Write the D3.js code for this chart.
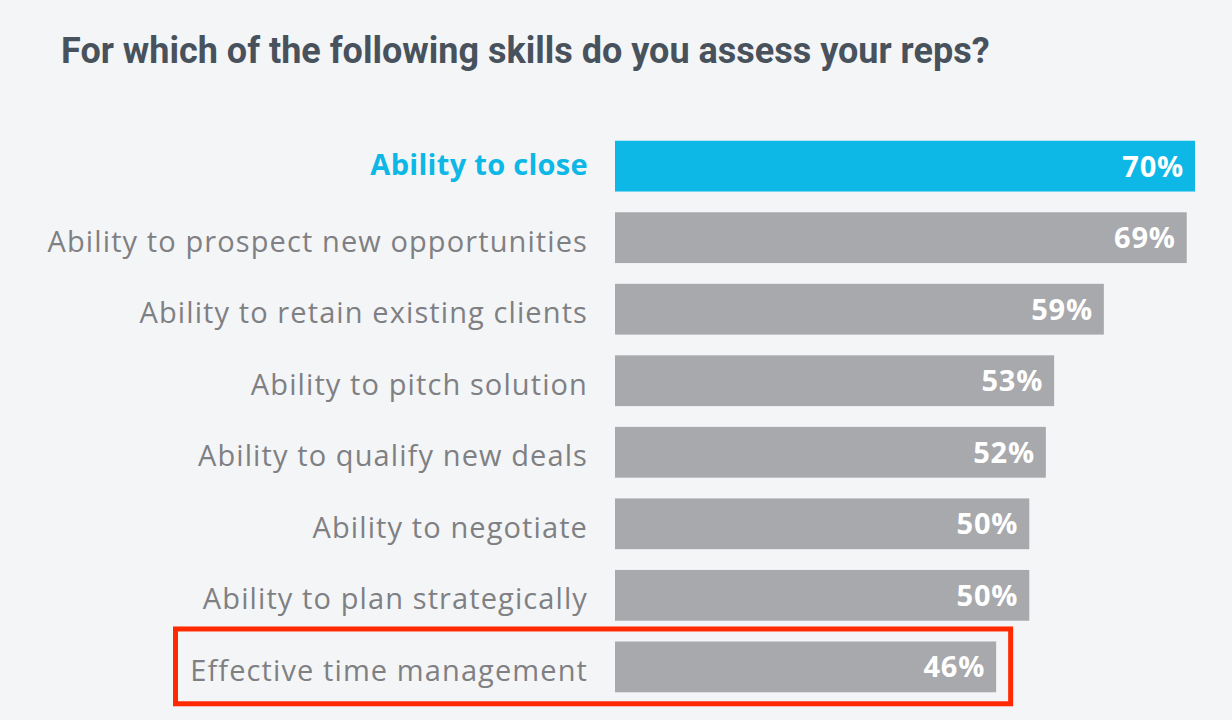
<!DOCTYPE html>
<html><head><meta charset="utf-8">
<script src="https://cdn.jsdelivr.net/npm/d3@7"></script>
<style>
html,body{margin:0;padding:0;background:#f4f5f7;}
svg{display:block;}
</style></head>
<body>
<svg id="chart" width="1232" height="720"></svg>
<script>
const title = "For which of the following skills do you assess your reps?";
const categories = [
  "Ability to close",
  "Ability to prospect new opportunities",
  "Ability to retain existing clients",
  "Ability to pitch solution",
  "Ability to qualify new deals",
  "Ability to negotiate",
  "Ability to plan strategically",
  "Effective time management"
];
const values = [70, 69, 59, 53, 52, 50, 50, 46];
const highlightIndex = 0;
const boxedIndex = 7;

const svg = d3.select("#chart");
const W = 1232, H = 720;
svg.append("rect").attr("width", W).attr("height", H).attr("fill", "#f4f5f7");

svg.append("text")
  .attr("x", 61).attr("y", 63)
  .attr("font-family", "Roboto, sans-serif")
  .attr("font-weight", 700)
  .attr("font-size", 36)
  .attr("fill", "#48525c")
  .text(title);

const x = d3.scaleLinear().domain([0, 70]).range([615, 1195]);
const y = d3.scaleBand().domain(categories).range([130, 703]).paddingInner(0.29).paddingOuter(0.15);

const g = svg.append("g");
const data = categories.map((c, i) => ({c, v: values[i], i}));

g.selectAll("rect.bar").data(data).enter().append("rect")
  .attr("class", "bar")
  .attr("x", x(0))
  .attr("y", d => y(d.c))
  .attr("width", d => x(d.v) - x(0))
  .attr("height", y.bandwidth())
  .attr("fill", d => d.i === highlightIndex ? "#0db7e6" : "#a8a9ac");

g.selectAll("text.val").data(data).enter().append("text")
  .attr("class", "val")
  .attr("x", d => x(d.v) - 11)
  .attr("y", d => y(d.c) + y.bandwidth() / 2)
  .attr("dy", "0.36em")
  .attr("text-anchor", "end")
  .attr("font-family", "'Open Sans', sans-serif")
  .attr("font-weight", 700)
  .attr("font-size", 29)
  .attr("letter-spacing", 0.8)
  .attr("fill", "#ffffff")
  .text(d => d.v + "%");

g.selectAll("text.cat").data(data).enter().append("text")
  .attr("class", "cat")
  .attr("x", 588)
  .attr("y", d => y(d.c) + y.bandwidth() / 2)
  .attr("dy", d => d.i === highlightIndex ? "0.3em" : "0.48em")
  .attr("text-anchor", "end")
  .attr("font-family", "'Open Sans', sans-serif")
  .attr("font-weight", d => d.i === highlightIndex ? 700 : 400)
  .attr("font-size", 29)
  .attr("letter-spacing", d => d.i === highlightIndex ? 0.3 : 1.1)
  .attr("fill", d => d.i === highlightIndex ? "#0db7e6" : "#7f8083")
  .text(d => d.c);

// highlight box around boxed row
const bd = data[boxedIndex];
svg.append("rect")
  .attr("x", 175.5)
  .attr("y", y(bd.c) - 12.5)
  .attr("width", x(bd.v) - 175.5 + 14.5)
  .attr("height", y.bandwidth() + 24)
  .attr("fill", "none")
  .attr("stroke", "#ff2a00")
  .attr("stroke-width", 5);
</script>
</body></html>
